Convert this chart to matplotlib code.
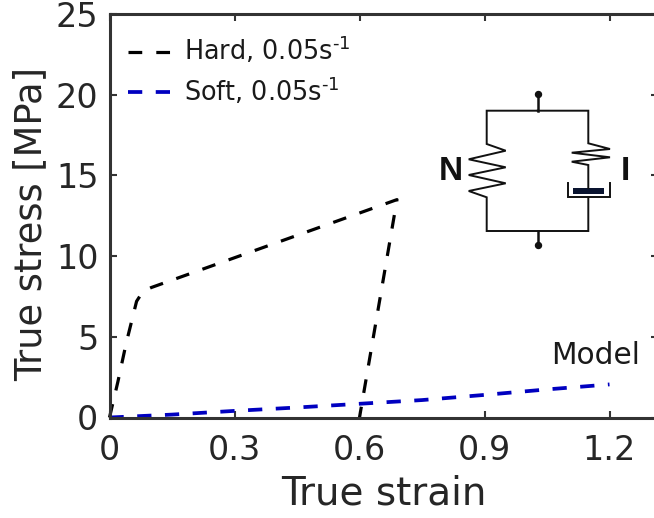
import matplotlib
matplotlib.use('Agg')
import matplotlib.pyplot as plt
from matplotlib.patches import Rectangle

# Data
hard_strain = [0, 0.02, 0.04, 0.065, 0.08, 0.10, 0.69, 0.60]
hard_stress = [0, 2.2, 4.6, 7.2, 7.8, 8.05, 13.5, 0]
soft_strain = [0, 0.15, 0.3, 0.45, 0.6, 0.75, 0.9, 1.05, 1.2]
soft_stress = [0, 0.18, 0.41, 0.62, 0.85, 1.08, 1.4, 1.74, 2.05]
x_ticks = [0, 0.3, 0.6, 0.9, 1.2]
x_labels = ['0', '0.3', '0.6', '0.9', '1.2']
y_ticks = [0, 5, 10, 15, 20, 25]

W, H = 654, 518
TEXT = '#262626'
SPINE = '#333333'

plt.rcParams['mathtext.default'] = 'regular'

fig = plt.figure(figsize=(W / 100, H / 100), dpi=100)
# the right spine falls just outside the saved picture
ax = fig.add_axes([109.5 / W, 1 - 417.5 / H, (657.5 - 109.5) / W, (417.5 - 14) / H])
ax.set_xlim(0, 548 / 416.67)
ax.set_ylim(0, 25)

ax.plot(hard_strain, hard_stress, color='black', lw=2.3, dashes=(4.3, 4.4), label=r'Hard, 0.05s$^{\text{-}1}$', clip_on=False)
ax.plot(soft_strain, soft_stress, color='#0000C0', lw=2.7, dashes=(3.8, 3.6), label=r'Soft, 0.05s$^{\text{-}1}$', clip_on=False)

ax.set_xticks(x_ticks)
ax.set_xticklabels(x_labels)
ax.set_yticks(y_ticks)
ax.tick_params(direction='in', length=5, width=1.5, color=SPINE, top=True, right=True,
               labelsize=24, labelcolor=TEXT)
ax.tick_params(axis='x', pad=12)
ax.tick_params(axis='y', pad=8)
for s in ax.spines.values():
    s.set_linewidth(2.2)
    s.set_color(SPINE)

ax.set_xlabel('True strain', fontsize=28, color=TEXT, labelpad=5.5)
ax.set_ylabel('True stress [MPa]', fontsize=26.5, color=TEXT, labelpad=5, y=0.4795)

ax.legend(loc='upper left', bbox_to_anchor=(-0.008, 1.005), frameon=False, fontsize=18.4,
          handlelength=1.75, handletextpad=0.45, labelspacing=0.35, labelcolor='#1a1a1a')

fig.text(551 / W, 1 - 364 / H, 'Model', fontsize=21.3, color='#1a1a1a')

# Schematic of the network model, drawn in picture pixels
sch = fig.add_axes([0, 0, 1, 1], facecolor='none')
sch.set_xlim(0, W)
sch.set_ylim(H, 0)
sch.axis('off')
kw = dict(color='#111111', lw=1.4, solid_joinstyle='miter')
sch.plot([537.7, 537.7], [94, 110.7], color='#111111', lw=1.8)
sch.plot([537.7, 537.7], [231, 245], color='#111111', lw=1.8)
sch.plot([537.7, 537.7], [94, 245], ls='none', marker='o', ms=4.3, color='#111111')
sch.plot([537.7, 486.7, 486.7, 505.7, 468.7, 505.7, 468.7, 505.7, 468.7, 486.7, 486.7, 588.3, 588.3],
         [110.7, 110.7, 144, 150.7, 159.3, 167.3, 175, 183.3, 191, 197.3, 231, 231, 197.3], **kw)
sch.plot([537.7, 588.3, 588.3, 610, 571.7, 610, 571.7, 588.3, 588.3],
         [110.7, 110.7, 143.3, 149, 152.7, 157.3, 161.7, 165, 188], **kw)
sch.plot([568.3, 568.3, 610, 610], [183.3, 197.3, 197.3, 183.3], **kw)
sch.add_patch(Rectangle((573.3, 188), 30.7, 6, color='#0a1430', lw=0))

fig.text(439 / W, 1 - 180 / H, 'N', family='Liberation Sans', weight='bold', fontsize=24, color='#111111')
fig.text(621 / W, 1 - 180 / H, 'I', family='Liberation Sans', weight='bold', fontsize=24, color='#111111')

fig.savefig('out.png', dpi=100)
